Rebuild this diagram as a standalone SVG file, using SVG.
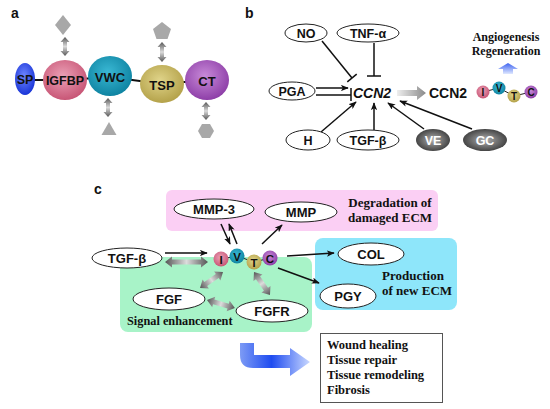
<svg xmlns="http://www.w3.org/2000/svg" width="550" height="409" viewBox="0 0 550 409">
<defs>
<style>
.sans{font-family:"Liberation Sans",Arial,sans-serif;font-weight:bold;fill:#111;}
.serif{font-family:"Liberation Serif","Times New Roman",serif;font-weight:bold;fill:#111;}
.node{fill:#fff;stroke:#222;stroke-width:1;}
.ln{stroke:#111;stroke-width:1.5;fill:none;}
.arr{stroke:#111;stroke-width:1.5;fill:none;marker-end:url(#ah);}
.gray{fill:#a8a8a8;}
.dbl{fill:url(#gDbl);}
</style>
<marker id="ah" viewBox="0 0 10 8" refX="9" refY="4" markerWidth="8" markerHeight="6.4" markerUnits="userSpaceOnUse" orient="auto">
<path d="M0,0 L10,4 L0,8 L2.5,4 Z" fill="#111"/>
</marker>
<radialGradient id="gSP" cx="0.45" cy="0.4" r="0.6"><stop offset="0" stop-color="#6f86ff"/><stop offset="1" stop-color="#1a36d8"/></radialGradient>
<radialGradient id="gI" cx="0.45" cy="0.4" r="0.6"><stop offset="0" stop-color="#eba0b6"/><stop offset="1" stop-color="#c85676"/></radialGradient>
<radialGradient id="gV" cx="0.45" cy="0.4" r="0.6"><stop offset="0" stop-color="#3ab8d4"/><stop offset="1" stop-color="#0f84a2"/></radialGradient>
<radialGradient id="gT" cx="0.45" cy="0.4" r="0.6"><stop offset="0" stop-color="#e0d48a"/><stop offset="1" stop-color="#b4a24a"/></radialGradient>
<radialGradient id="gC" cx="0.45" cy="0.4" r="0.6"><stop offset="0" stop-color="#c88ad8"/><stop offset="1" stop-color="#8e3fa8"/></radialGradient>
<radialGradient id="gDark" cx="0.5" cy="0.5" r="0.55"><stop offset="0" stop-color="#b0b0b0"/><stop offset="1" stop-color="#3a3a3a"/></radialGradient>
<linearGradient id="gDbl" x1="0" y1="0" x2="1" y2="0"><stop offset="0" stop-color="#555"/><stop offset="0.5" stop-color="#dcdcdc"/><stop offset="1" stop-color="#555"/></linearGradient>
<linearGradient id="gGrayArr" x1="0" y1="0" x2="1" y2="0"><stop offset="0" stop-color="#eeeeee"/><stop offset="1" stop-color="#8a8a8a"/></linearGradient>
<linearGradient id="gUp" x1="0" y1="0" x2="0" y2="1"><stop offset="0" stop-color="#3d62f0"/><stop offset="1" stop-color="#dfe8ff"/></linearGradient>
<linearGradient id="gBig" x1="0" y1="0" x2="1" y2="0"><stop offset="0" stop-color="#7d9bf5"/><stop offset="0.45" stop-color="#1f4cf0"/><stop offset="1" stop-color="#c9d8ff"/></linearGradient>
</defs>
<rect width="550" height="409" fill="#fff"/>

<!-- Panel a -->
<text class="sans" x="11" y="18" font-size="14">a</text>
<g id="a-connectors">
<polyline points="25,80 65,80 110,77 162,84 207,80" fill="none" stroke="#111" stroke-width="2.2"/>
<path class="dbl" transform="translate(65,37) rotate(90)" d="M0,0 L5,-4.5 L5,-2 L14,-2 L14,-4.5 L19,0 L14,4.5 L14,2 L5,2 L5,4.5 Z"/>
<path class="dbl" transform="translate(162,42) rotate(90)" d="M0,0 L5,-4.5 L5,-2 L15,-2 L15,-4.5 L20,0 L15,4.5 L15,2 L5,2 L5,4.5 Z"/>
<path class="dbl" transform="translate(108,98) rotate(90)" d="M0,0 L5,-4.5 L5,-2 L14,-2 L14,-4.5 L19,0 L14,4.5 L14,2 L5,2 L5,4.5 Z"/>
<path class="dbl" transform="translate(206,102) rotate(90)" d="M0,0 L5,-4.5 L5,-2 L13,-2 L13,-4.5 L18,0 L13,4.5 L13,2 L5,2 L5,4.5 Z"/>
</g>
<g id="a-diamond"><polygon class="gray" points="63,15 71,25 63,35 55,25"/></g>
<g id="a-pentagon"><polygon class="gray" points="162,22 171,29 167.5,39 156.5,39 153,29"/></g>
<g id="a-triangle"><polygon class="gray" points="109,122 116.5,135 101.5,135"/></g>
<g id="a-hexagon"><polygon class="gray" points="198,131 202,124 210,124 214,131 210,138 202,138"/></g>
<g id="a-SP"><ellipse cx="25" cy="79" rx="10" ry="16" fill="url(#gSP)"/><text class="sans" x="25" y="84" font-size="12.5" text-anchor="middle">SP</text></g>
<g id="a-IGFBP"><ellipse cx="65" cy="80" rx="22" ry="20" fill="url(#gI)"/><text class="sans" x="65" y="85" font-size="12.5" text-anchor="middle">IGFBP</text></g>
<g id="a-VWC"><ellipse cx="110" cy="76" rx="22" ry="20" fill="url(#gV)"/><text class="sans" x="110" y="82" font-size="13" text-anchor="middle">VWC</text></g>
<g id="a-TSP"><ellipse cx="162" cy="84" rx="22" ry="19" fill="url(#gT)"/><text class="sans" x="162" y="90" font-size="13" text-anchor="middle">TSP</text></g>
<g id="a-CT"><ellipse cx="207" cy="80" rx="22" ry="20" fill="url(#gC)"/><text class="sans" x="207" y="86" font-size="13" text-anchor="middle">CT</text></g>

<!-- Panel b -->
<text class="sans" x="245" y="18" font-size="14">b</text>
<g id="b-connectors">
<line class="ln" x1="322" y1="41" x2="352" y2="78"/>
<line class="ln" x1="347.3" y1="81.8" x2="356.7" y2="74.2"/>
<line class="ln" x1="374" y1="43" x2="374" y2="76"/>
<line class="ln" x1="367" y1="76" x2="381" y2="76"/>
<line class="arr" x1="316" y1="88" x2="348" y2="88"/>
<line class="ln" x1="316" y1="95" x2="351" y2="95"/>
<line class="ln" x1="351" y1="88" x2="351" y2="101"/>
<line class="arr" x1="321" y1="132" x2="356" y2="102"/>
<line class="arr" x1="374" y1="130" x2="374" y2="103"/>
<line class="arr" x1="424" y1="129" x2="388" y2="103"/>
<line class="arr" x1="472" y1="129" x2="400" y2="101"/>
<path d="M397,90 L417,90 L417,86 L426,93 L417,100 L417,96 L397,96 Z" fill="url(#gGrayArr)"/>
<path d="M508,63 L518,69 L513,69 L513,74 L503,74 L503,69 L498,69 Z" fill="url(#gUp)"/>
</g>
<g id="b-NO"><ellipse class="node" cx="306" cy="33" rx="21" ry="9"/><text class="sans" x="306" y="37.5" font-size="12.5" text-anchor="middle">NO</text></g>
<g id="b-TNF"><ellipse class="node" cx="368" cy="33" rx="31" ry="9"/><text class="sans" x="368" y="37.5" font-size="12.5" text-anchor="middle">TNF-α</text></g>
<g id="b-PGA"><ellipse class="node" cx="292" cy="91" rx="23" ry="9"/><text class="sans" x="292" y="95.5" font-size="12.5" text-anchor="middle">PGA</text></g>
<g id="b-CCN2gene"><text class="sans" x="372" y="98" font-size="14" font-style="italic" text-anchor="middle">CCN2</text></g>
<g id="b-H"><ellipse class="node" cx="308" cy="140" rx="22" ry="10"/><text class="sans" x="308" y="144.5" font-size="12.5" text-anchor="middle">H</text></g>
<g id="b-TGF"><ellipse class="node" cx="368" cy="140" rx="31" ry="10"/><text class="sans" x="368" y="144.5" font-size="12.5" text-anchor="middle">TGF-β</text></g>
<g id="b-VE"><ellipse cx="433" cy="140" rx="17" ry="11" fill="url(#gDark)"/><text class="sans" x="433" y="144.5" font-size="12.5" text-anchor="middle" style="fill:#fff">VE</text></g>
<g id="b-GC"><ellipse cx="485" cy="140" rx="22" ry="11" fill="url(#gDark)"/><text class="sans" x="485" y="144.5" font-size="12.5" text-anchor="middle" style="fill:#fff">GC</text></g>
<g id="b-CCN2protein">
<text class="sans" x="448" y="98" font-size="14" text-anchor="middle">CCN2</text>
<polyline points="483,92 499,88 514,96 531,92" fill="none" stroke="#222" stroke-width="1"/>
<circle cx="483" cy="92" r="6.5" fill="url(#gI)"/><text class="sans" x="483" y="96" font-size="10" text-anchor="middle">I</text>
<circle cx="499" cy="88" r="6.5" fill="url(#gV)"/><text class="sans" x="499" y="92" font-size="10" text-anchor="middle">V</text>
<circle cx="514" cy="96" r="6.5" fill="url(#gT)"/><text class="sans" x="514" y="100" font-size="10" text-anchor="middle">T</text>
<circle cx="531" cy="92" r="6.5" fill="url(#gC)"/><text class="sans" x="531" y="96" font-size="10" text-anchor="middle">C</text>
</g>
<g id="b-outcome"><text class="serif" x="506" y="41" font-size="12" text-anchor="middle">Angiogenesis</text><text class="serif" x="506" y="55" font-size="12" text-anchor="middle">Regeneration</text></g>

<!-- Panel c -->
<text class="sans" x="94" y="194" font-size="14">c</text>
<g id="c-box-degradation"><rect x="166" y="190" width="272" height="41" rx="6" fill="#fbcff4"/><text class="serif" x="390" y="207" font-size="13" text-anchor="middle">Degradation of</text><text class="serif" x="390" y="222" font-size="13" text-anchor="middle">damaged ECM</text></g>
<g id="c-box-production"><rect x="315" y="238" width="142" height="72" rx="8" fill="#8ee6fa"/><text class="serif" x="382" y="280" font-size="13">Production</text><text class="serif" x="382" y="295" font-size="13">of new ECM</text></g>
<g id="c-box-signal"><rect x="120" y="257" width="192" height="75" rx="8" fill="#a8f3c8"/><text class="serif" x="127" y="325" font-size="12.3">Signal enhancement</text></g>

<g id="c-connectors">
<line class="arr" x1="165" y1="253" x2="207" y2="253"/>
<path class="dbl" transform="translate(165,262)" d="M0,0 L7,-5.5 L7,-2.5 L36,-2.5 L36,-5.5 L43,0 L36,5.5 L36,2.5 L7,2.5 L7,5.5 Z"/>
<path class="dbl" transform="translate(223,272) rotate(145.2)" d="M0,0 L7,-5.5 L7,-2.5 L21,-2.5 L21,-5.5 L28,0 L21,5.5 L21,2.5 L7,2.5 L7,5.5 Z"/>
<path class="dbl" transform="translate(207,300) rotate(16)" d="M0,0 L7,-5.5 L7,-2.5 L22,-2.5 L22,-5.5 L29,0 L22,5.5 L22,2.5 L7,2.5 L7,5.5 Z"/>
<path class="dbl" transform="translate(254,272) rotate(55.2)" d="M0,0 L7,-5.5 L7,-2.5 L21,-2.5 L21,-5.5 L28,0 L21,5.5 L21,2.5 L7,2.5 L7,5.5 Z"/>
<line class="arr" x1="221" y1="224" x2="230" y2="244"/>
<line class="arr" x1="237" y1="244" x2="229" y2="224"/>
<line class="arr" x1="262" y1="244" x2="282" y2="225"/>
<line class="arr" x1="287" y1="256" x2="334" y2="253"/>
<line class="arr" x1="278" y1="268" x2="319" y2="283"/>
<path d="M240,343 H254 V355 H290 V348 L310,362 L290,376 V368 H253 Q240,368 240,355 Z" fill="url(#gBig)"/>
</g>
<g id="c-MMP3"><ellipse class="node" cx="214" cy="209" rx="40" ry="10"/><text class="sans" x="214" y="213.5" font-size="13" text-anchor="middle">MMP-3</text></g>
<g id="c-MMP"><ellipse class="node" cx="301" cy="212" rx="36" ry="10"/><text class="sans" x="301" y="216.5" font-size="13" text-anchor="middle">MMP</text></g>
<g id="c-TGF"><ellipse class="node" cx="127" cy="258" rx="35" ry="10"/><text class="sans" x="127" y="262.5" font-size="13" text-anchor="middle">TGF-β</text></g>
<g id="c-COL"><ellipse class="node" cx="371" cy="254" rx="33" ry="11"/><text class="sans" x="371" y="258.5" font-size="13" text-anchor="middle">COL</text></g>
<g id="c-PGY"><ellipse class="node" cx="348" cy="296" rx="28" ry="12"/><text class="sans" x="348" y="300.5" font-size="13" text-anchor="middle">PGY</text></g>
<g id="c-FGF"><ellipse class="node" cx="169" cy="299" rx="36" ry="11"/><text class="sans" x="169" y="303.5" font-size="13" text-anchor="middle">FGF</text></g>
<g id="c-FGFR"><ellipse class="node" cx="272" cy="311" rx="36" ry="11"/><text class="sans" x="272" y="315.5" font-size="13" text-anchor="middle">FGFR</text></g>
<g id="c-CCN2protein">
<polyline points="221,259 237,256 254,262 270,258" fill="none" stroke="#222" stroke-width="1"/>
<circle cx="221" cy="259" r="7.5" fill="url(#gI)"/><text class="sans" x="221" y="263.5" font-size="11.5" text-anchor="middle">I</text>
<circle cx="237" cy="256" r="7.5" fill="url(#gV)"/><text class="sans" x="237" y="260.5" font-size="11.5" text-anchor="middle">V</text>
<circle cx="254" cy="262" r="7.5" fill="url(#gT)"/><text class="sans" x="254" y="266.5" font-size="11.5" text-anchor="middle">T</text>
<circle cx="270" cy="258" r="7.5" fill="url(#gC)"/><text class="sans" x="270" y="262.5" font-size="11.5" text-anchor="middle">C</text>
</g>
<g id="c-outcomes">
<rect x="320.5" y="333.5" width="122" height="69" fill="#fff" stroke="#555" stroke-width="1"/>
<text class="serif" x="327" y="349" font-size="12.5">Wound healing</text>
<text class="serif" x="327" y="364" font-size="12.5">Tissue repair</text>
<text class="serif" x="327" y="379" font-size="12.5">Tissue remodeling</text>
<text class="serif" x="327" y="394" font-size="12.5">Fibrosis</text>
</g>
</svg>
